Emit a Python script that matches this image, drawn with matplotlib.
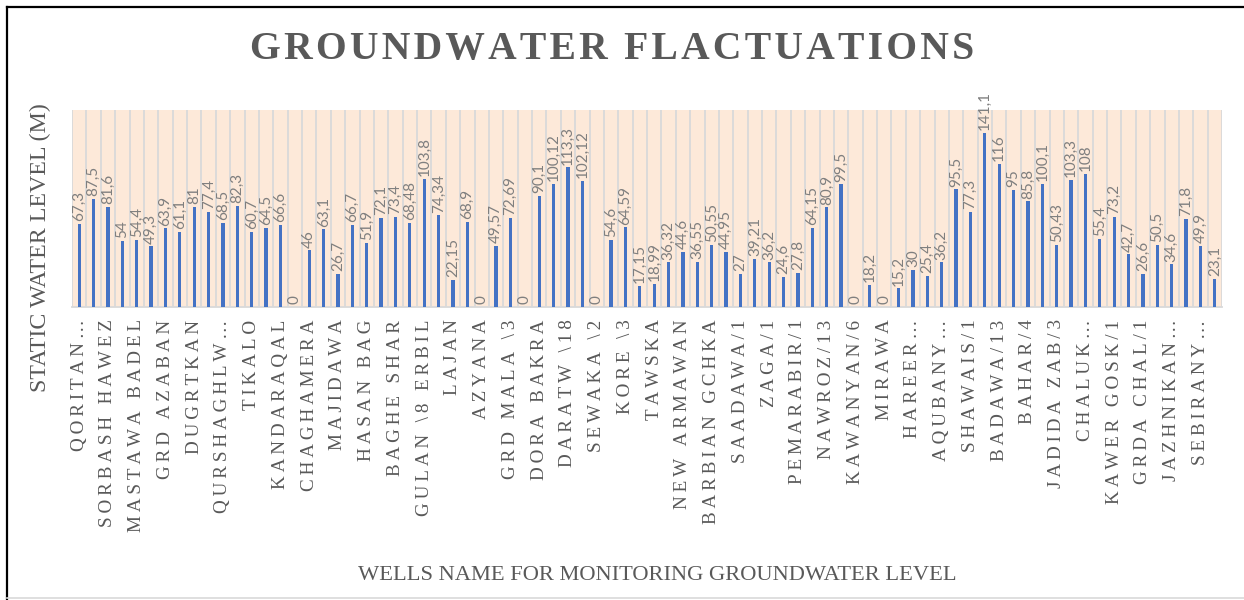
import matplotlib.pyplot as plt
from matplotlib.lines import Line2D

# static water level (m) of each monitoring well, left to right
levels = [67.3, 87.5, 81.6, 54, 54.4, 49.3, 63.9, 61.1, 81, 77.4,
          68.5, 82.3, 60.7, 64.5, 66.6, 0, 46, 63.1, 26.7, 66.7,
          51.9, 72.1, 73.4, 68.48, 103.8, 74.34, 22.15, 68.9, 0, 49.57,
          72.69, 0, 90.1, 100.12, 113.3, 102.12, 0, 54.6, 64.59, 17.15,
          18.99, 36.32, 44.6, 36.55, 50.55, 44.95, 27, 39.21, 36.2, 24.6,
          27.8, 64.15, 80.9, 99.5, 0, 18.2, 0, 15.2, 30, 25.4,
          36.2, 95.5, 77.3, 141.1, 116, 95, 85.8, 100.1, 50.43, 103.3,
          108, 55.4, 73.2, 42.7, 26.6, 50.5, 34.6, 71.8, 49.9, 23.1]

# only every second well name is shown on the axis
well_names = ['QORITAN…', 'SORBASH HAWEZ', 'MASTAWA BADEL', 'GRD AZABAN',
              'DUGRTKAN', 'QURSHAGHLW…', 'TIKALO', 'KANDARAQAL', 'CHAGHAMERA',
              'MAJIDAWA', 'HASAN BAG', 'BAGHE SHAR', 'GULAN \\8 ERBIL', 'LAJAN',
              'AZYANA', 'GRD MALA \\3', 'DORA BAKRA', 'DARATW \\18', 'SEWAKA \\2',
              'KORE \\3', 'TAWSKA', 'NEW ARMAWAN', 'BARBIAN GCHKA', 'SAADAWA/1',
              'ZAGA/1', 'PEMARABIR/1', 'NAWROZ/13', 'KAWANYAN/6', 'MIRAWA',
              'HAREER…', 'AQUBANY…', 'SHAWAIS/1', 'BADAWA/13', 'BAHAR/4',
              'JADIDA ZAB/3', 'CHALUK…', 'KAWER GOSK/1', 'GRDA CHAL/1',
              'JAZHNIKAN…', 'SEBIRANY…']

SERIF = ['Liberation Serif', 'DejaVu Serif']
GRAY = '#595959'


def spaced(s, gap='\u2009'):
    # fake letter spacing
    return gap.join(s)


fig = plt.figure(figsize=(12.44, 6.0), dpi=100)
ax = fig.add_axes([72 / 1244, 1 - 307 / 600, 1150 / 1244, 197 / 600])
ax.set_facecolor('#FDE9D9')

x = list(range(len(levels)))
ax.bar(x, levels, width=0.22, color='#4472C4', zorder=3)

for i, v in enumerate(levels):
    ax.annotate(f'{v:g}'.replace('.', ','), (i, v), xytext=(0, 2),
                textcoords='offset points', rotation=90, ha='center',
                va='bottom', fontsize=11, family='Lato', color='#7F7F7F')

ax.set_xlim(-0.5, len(levels) - 0.5)
ax.set_ylim(0, 160)
ax.set_yticks([])

ax.set_xticks(range(0, len(levels), 2))
ax.set_xticklabels([spaced(n) for n in well_names], rotation=90,
                   fontsize=13.8, family=SERIF, color=GRAY)
ax.set_xticks([i - 0.5 for i in range(len(levels) + 1)], minor=True)
ax.tick_params(axis='x', which='both', length=0, pad=9)
ax.grid(axis='x', which='minor', color='#D9D9D9', linewidth=1.3, zorder=1)

for s in ['top', 'right', 'left']:
    ax.spines[s].set_visible(False)
ax.spines['bottom'].set_color('#D9D9D9')
ax.spines['bottom'].set_linewidth(1.3)

fig.text(612 / 1244, 1 - 50 / 600, spaced('GROUNDWATER FLACTUATIONS', '\u200a'),
         ha='center', va='center', fontsize=28.5, fontweight='bold',
         family=SERIF, color=GRAY)
fig.text(40 / 1244, 1 - 248 / 600, 'STATIC WATER LEVEL (M)', rotation=90,
         ha='center', va='center', fontsize=17.2, family=SERIF, color=GRAY)
fig.text(657 / 1244, 1 - 576 / 600, 'WELLS NAME FOR MONITORING GROUNDWATER LEVEL',
         ha='center', va='center', fontsize=16.2, family=SERIF, color=GRAY)

# chart frame
fig.add_artist(Line2D([7 / 1244, 1], [1 - 7 / 600] * 2, color='black', lw=1.6))
fig.add_artist(Line2D([7 / 1244] * 2, [0, 1 - 7 / 600], color='black', lw=1.6))
fig.add_artist(Line2D([7 / 1244, 1], [2 / 600] * 2, color='#D9D9D9', lw=1.2))

fig.savefig('out.png', dpi=100)
